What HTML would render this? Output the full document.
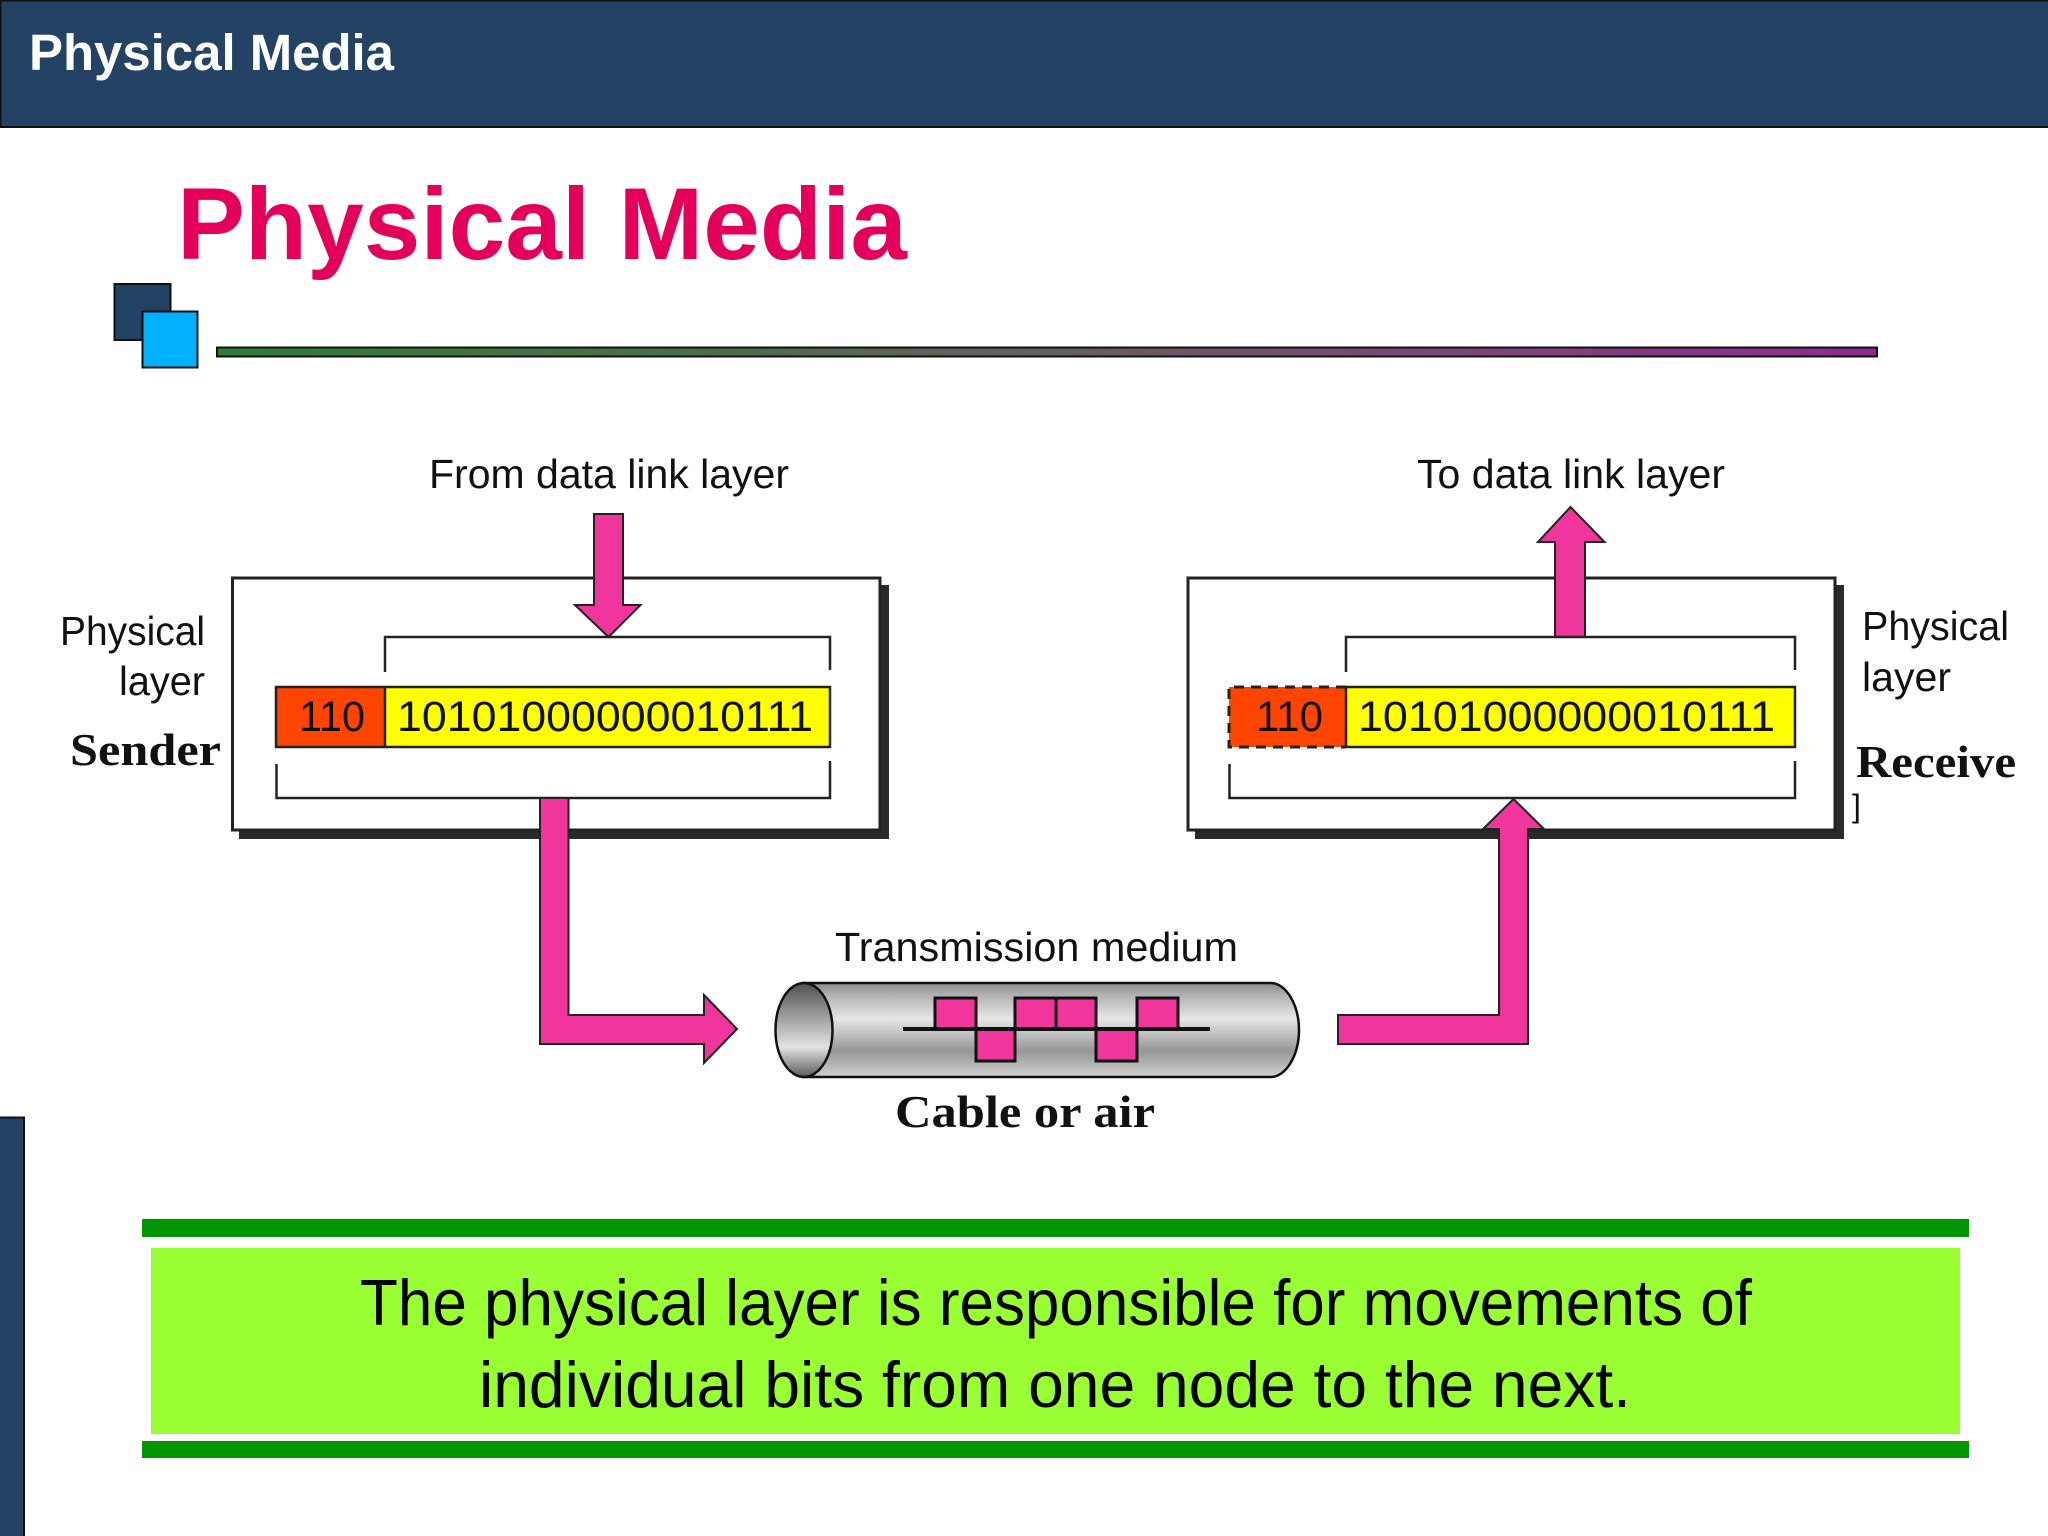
<!DOCTYPE html>
<html lang="en">
<head>
<meta charset="utf-8">
<title>Physical Media</title>
<style>
html,body{margin:0;padding:0;background:#fff;width:2048px;height:1536px;overflow:hidden}
svg{display:block}
text{fill:#111}
.s{font-family:"Liberation Sans",sans-serif}
.r{font-family:"Liberation Serif",serif;font-weight:bold}
</style>
</head>
<body>
<svg width="2048" height="1536" viewBox="0 0 2048 1536" xmlns="http://www.w3.org/2000/svg">
<defs>
<linearGradient id="rule" x1="0" x2="1" y1="0" y2="0">
<stop offset="0" stop-color="#2f7d37"/><stop offset=".5" stop-color="#66605f"/><stop offset="1" stop-color="#8e2a90"/>
</linearGradient>
<linearGradient id="cyl" x1="0" x2="0" y1="0" y2="1">
<stop offset="0" stop-color="#8a8a8a"/><stop offset=".12" stop-color="#b0b0b0"/><stop offset=".38" stop-color="#e6e6e6"/><stop offset=".72" stop-color="#969696"/><stop offset="1" stop-color="#d2d2d2"/>
</linearGradient>
<linearGradient id="cap" x1="0" x2="0" y1="0" y2="1">
<stop offset="0" stop-color="#505050"/><stop offset=".35" stop-color="#9c9c9c"/><stop offset=".68" stop-color="#e2e2e2"/><stop offset="1" stop-color="#5c5c5c"/>
</linearGradient>
</defs>

<!-- header -->
<rect x="0" y="0" width="2048" height="127" fill="#234264"/>
<rect x="0" y="126" width="2048" height="2" fill="#111"/>
<rect x="0" y="0" width="2048" height="1.5" fill="#111"/>
<rect x="0" y="0" width="1.5" height="127" fill="#111"/>
<text class="s" x="29" y="70" font-size="51" font-weight="bold" style="fill:#fff" textLength="365" lengthAdjust="spacingAndGlyphs">Physical Media</text>

<!-- title -->
<text class="s" x="177" y="259" font-size="102" font-weight="bold" style="fill:#e4005a" textLength="730" lengthAdjust="spacingAndGlyphs">Physical Media</text>
<rect x="114.5" y="284" width="56" height="56" fill="#234264" stroke="#111" stroke-width="2"/>
<rect x="142.5" y="311.5" width="55" height="56" fill="#00b2ff" stroke="#111" stroke-width="2"/>
<rect x="217" y="347.5" width="1660" height="9" fill="url(#rule)" stroke="#111" stroke-width="2"/>

<!-- sidebar -->
<rect x="0" y="1117" width="24" height="419" fill="#234264"/>
<path d="M0 1117.5H24V1536" fill="none" stroke="#111" stroke-width="2"/>

<!-- left box -->
<rect x="239" y="585" width="650" height="254" fill="#2a2a2e"/>
<rect x="232.5" y="578" width="647.5" height="252" fill="#fff" stroke="#222" stroke-width="3"/>
<path d="M594 514H623V605H640.5L608.5 637L575 605H594Z" fill="#f0369c" stroke="#222" stroke-width="2"/>
<path d="M385 672V637H830V670" fill="none" stroke="#222" stroke-width="2.5"/>
<rect x="276" y="687" width="109" height="60" fill="#ff4500"/>
<rect x="385" y="687" width="445" height="60" fill="#ffff00"/>
<rect x="276" y="687" width="554" height="60" fill="none" stroke="#222" stroke-width="2.5"/>
<line x1="385" y1="687" x2="385" y2="747" stroke="#222" stroke-width="2.5"/>
<path d="M276.5 764V798H830V761" fill="none" stroke="#222" stroke-width="2.5"/>
<text class="s" x="299" y="731" font-size="43" textLength="66" lengthAdjust="spacingAndGlyphs">110</text>
<text class="s" x="397" y="731" font-size="43" textLength="416" lengthAdjust="spacingAndGlyphs">10101000000010111</text>

<!-- left labels -->
<text class="s" x="429" y="488" font-size="41" textLength="360" lengthAdjust="spacingAndGlyphs">From data link layer</text>
<text class="s" x="60" y="645" font-size="41" textLength="145" lengthAdjust="spacingAndGlyphs">Physical</text>
<text class="s" x="119" y="695" font-size="41" textLength="86" lengthAdjust="spacingAndGlyphs">layer</text>
<text class="r" x="70" y="765" font-size="46" textLength="151" lengthAdjust="spacingAndGlyphs">Sender</text>

<!-- sender to medium -->
<path d="M540 798H568.5V1015H704V995L737 1029L704 1063V1044H540Z" fill="#f0369c" stroke="#222" stroke-width="2"/>

<!-- cylinder -->
<path d="M803 983H1271C1286 983 1299 1005 1299 1030C1299 1055 1286 1077 1271 1077H803Z" fill="url(#cyl)" stroke="#111" stroke-width="2.5"/>
<ellipse cx="804" cy="1030" rx="28.5" ry="47" fill="url(#cap)" stroke="#111" stroke-width="2.5"/>
<path d="M935 1029V998H976V1061H1015V998H1096V1061H1137V998H1178V1029Z" fill="#f0369c"/>
<path d="M935 1029V998H976V1061H1015V998H1096V1061H1137V998H1178V1029" fill="none" stroke="#111" stroke-width="3"/>
<line x1="1056" y1="998" x2="1056" y2="1029" stroke="#111" stroke-width="3"/>
<line x1="903" y1="1029" x2="1210" y2="1029" stroke="#111" stroke-width="4"/>
<text class="s" x="835" y="961" font-size="41" textLength="403" lengthAdjust="spacingAndGlyphs">Transmission medium</text>
<text class="r" x="895" y="1127" font-size="46" textLength="260" lengthAdjust="spacingAndGlyphs">Cable or air</text>

<!-- right box -->
<rect x="1195" y="585" width="649" height="254" fill="#2a2a2e"/>
<rect x="1188" y="578" width="647" height="252" fill="#fff" stroke="#222" stroke-width="3"/>
<path d="M1555 637V542H1538L1570.5 507L1604.5 542H1585V637Z" fill="#f0369c" stroke="#222" stroke-width="2"/>
<path d="M1346 672V637H1795V670" fill="none" stroke="#222" stroke-width="2.5"/>
<rect x="1229" y="687" width="117" height="60" fill="#ff4500"/>
<rect x="1346" y="687" width="449" height="60" fill="#ffff00" stroke="#222" stroke-width="2.5"/>
<path d="M1346 687H1229V747H1346" fill="none" stroke="#222" stroke-width="3" stroke-dasharray="10 7"/>
<path d="M1229.5 764V798H1795V761" fill="none" stroke="#222" stroke-width="2.5"/>
<text class="s" x="1256" y="731" font-size="43" textLength="67" lengthAdjust="spacingAndGlyphs">110</text>
<text class="s" x="1358" y="731" font-size="43" textLength="417" lengthAdjust="spacingAndGlyphs">10101000000010111</text>

<!-- medium to receiver -->
<path d="M1338 1015H1499V829H1483L1513.5 799L1544 829H1528V1044H1338Z" fill="#f0369c" stroke="#222" stroke-width="2"/>

<!-- right labels -->
<text class="s" x="1417" y="488" font-size="41" textLength="308" lengthAdjust="spacingAndGlyphs">To data link layer</text>
<text class="s" x="1862" y="640" font-size="41" textLength="147" lengthAdjust="spacingAndGlyphs">Physical</text>
<text class="s" x="1862" y="691" font-size="41" textLength="89" lengthAdjust="spacingAndGlyphs">layer</text>
<text class="r" x="1856" y="777" font-size="46" textLength="160" lengthAdjust="spacingAndGlyphs">Receive</text>
<text class="s" x="1852" y="817" font-size="32">]</text>

<!-- caption -->
<rect x="142" y="1219" width="1827" height="18" fill="#009600"/>
<rect x="151" y="1248" width="1809" height="186" fill="#99ff33"/>
<rect x="142" y="1441" width="1827" height="17" fill="#009600"/>
<text class="s" x="360" y="1325" font-size="65" style="fill:#000" textLength="1392" lengthAdjust="spacingAndGlyphs">The physical layer is responsible for movements of</text>
<text class="s" x="479" y="1407" font-size="65" style="fill:#000" textLength="1152" lengthAdjust="spacingAndGlyphs">individual bits from one node to the next.</text>
</svg>
</body>
</html>
